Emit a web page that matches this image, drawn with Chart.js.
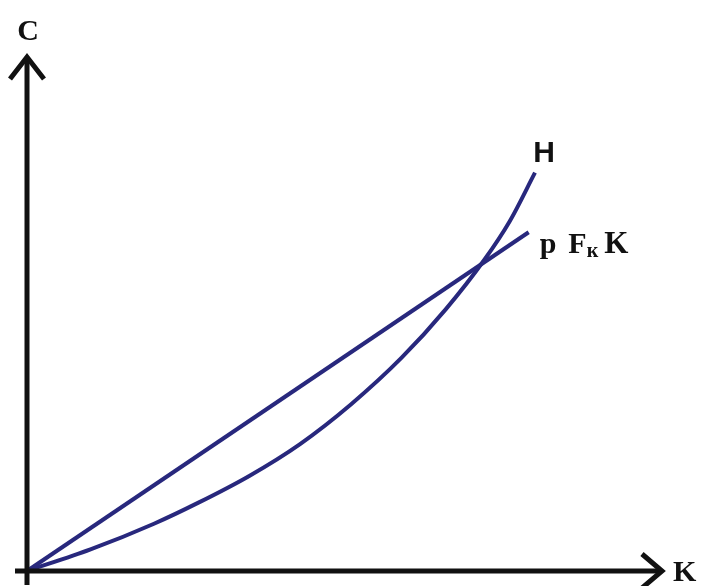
<!DOCTYPE html>
<html>
<head>
<meta charset="utf-8">
<script src="https://cdn.jsdelivr.net/npm/chart.js@4"></script>
<style>
  html, body { margin: 0; padding: 0; background: #fff; }
  #c { display: block; }
</style>
</head>
<body>
<canvas id="c" width="701" height="586"></canvas>
<script>
// Data (arbitrary units)
const hX = [0, 10, 20, 27, 35, 43, 51, 59, 66, 72, 76, 80];
const hY = [0, 4.2, 9.2, 13.3, 18.5, 24.7, 32.4, 41.5, 51, 60.5, 68, 77.5];
const lineX = [0, 79];
const lineY = [0, 65.9];
const axisLabels = { x: 'K', y: 'C' };
const seriesLabels = { curve: 'H', linePre: 'p', line: 'F', lineSub: 'к', lineTail: 'K' };

const navy = 'rgb(40,40,125)';

const toPts = (xs, ys) => xs.map((x, i) => ({ x, y: ys[i] }));

const decor = {
  id: 'decor',
  afterDraw(chart) {
    const ctx = chart.ctx;
    const xs = chart.scales.x, ys = chart.scales.y;
    const ox = xs.getPixelForValue(0), oy = ys.getPixelForValue(0);
    const xEnd = xs.getPixelForValue(100), yEnd = ys.getPixelForValue(100);
    ctx.save();
    ctx.strokeStyle = '#111';
    ctx.lineWidth = 5;
    ctx.lineCap = 'butt';
    // axes
    ctx.beginPath();
    ctx.moveTo(ox - 12, oy); ctx.lineTo(xEnd - 2, oy);
    ctx.moveTo(ox, oy + 14); ctx.lineTo(ox, yEnd + 2);
    ctx.stroke();
    // arrow heads
    ctx.lineJoin = 'miter';
    ctx.beginPath();
    ctx.moveTo(xEnd - 20, oy - 17); ctx.lineTo(xEnd, oy); ctx.lineTo(xEnd - 20, oy + 17);
    ctx.moveTo(ox - 17, yEnd + 22); ctx.lineTo(ox, yEnd); ctx.lineTo(ox + 17, yEnd + 22);
    ctx.stroke();

    ctx.fillStyle = '#111';
    ctx.textBaseline = 'alphabetic';
    // axis labels
    ctx.font = 'bold 30px "Liberation Serif", "Times New Roman", serif';
    ctx.textAlign = 'center';
    ctx.fillText(axisLabels.y, ox + 1, yEnd - 17);
    ctx.textAlign = 'left';
    ctx.fillText(axisLabels.x, xEnd + 11, oy + 10);

    // curve label H
    const hx = xs.getPixelForValue(hX[hX.length - 1]);
    const hy = ys.getPixelForValue(hY[hY.length - 1]);
    ctx.font = 'bold 30px "Liberation Sans", Arial, sans-serif';
    ctx.textAlign = 'center';
    ctx.fillText(seriesLabels.curve, hx + 9, hy - 11);

    // line label p F_к K
    const lx = xs.getPixelForValue(lineX[1]);
    const ly = ys.getPixelForValue(lineY[1]);
    ctx.textAlign = 'left';
    let px = lx + 11, py = ly + 21;
    ctx.font = 'bold 30px "Liberation Serif", "Times New Roman", serif';
    ctx.fillText(seriesLabels.linePre, px, py);
    px += ctx.measureText(seriesLabels.linePre).width + 12;
    ctx.fillText(seriesLabels.line, px, py);
    px += ctx.measureText(seriesLabels.line).width;
    ctx.font = 'bold 20px "Liberation Serif", "Times New Roman", serif';
    ctx.fillText(seriesLabels.lineSub, px, py + 4);
    px += ctx.measureText(seriesLabels.lineSub).width + 6;
    ctx.font = 'bold 31px "Liberation Serif", "Times New Roman", serif';
    ctx.fillText(seriesLabels.lineTail, px, py);
    ctx.restore();
  }
};

new Chart(document.getElementById('c'), {
  type: 'scatter',
  data: {
    datasets: [
      {
        data: toPts(lineX, lineY),
        showLine: true,
        borderColor: navy,
        borderWidth: 4,
        pointRadius: 0,
        fill: false
      },
      {
        data: toPts(hX, hY),
        showLine: true,
        borderColor: navy,
        borderWidth: 4,
        pointRadius: 0,
        cubicInterpolationMode: 'monotone',
        fill: false
      }
    ]
  },
  options: {
    responsive: false,
    animation: false,
    events: [],
    clip: false,
    layout: { padding: { left: 27, right: 39, top: 57, bottom: 15 } },
    plugins: { legend: { display: false }, tooltip: { enabled: false } },
    scales: {
      x: { type: 'linear', min: 0, max: 100, display: false },
      y: { type: 'linear', min: 0, max: 100, display: false }
    }
  },
  plugins: [decor]
});
</script>
</body>
</html>
